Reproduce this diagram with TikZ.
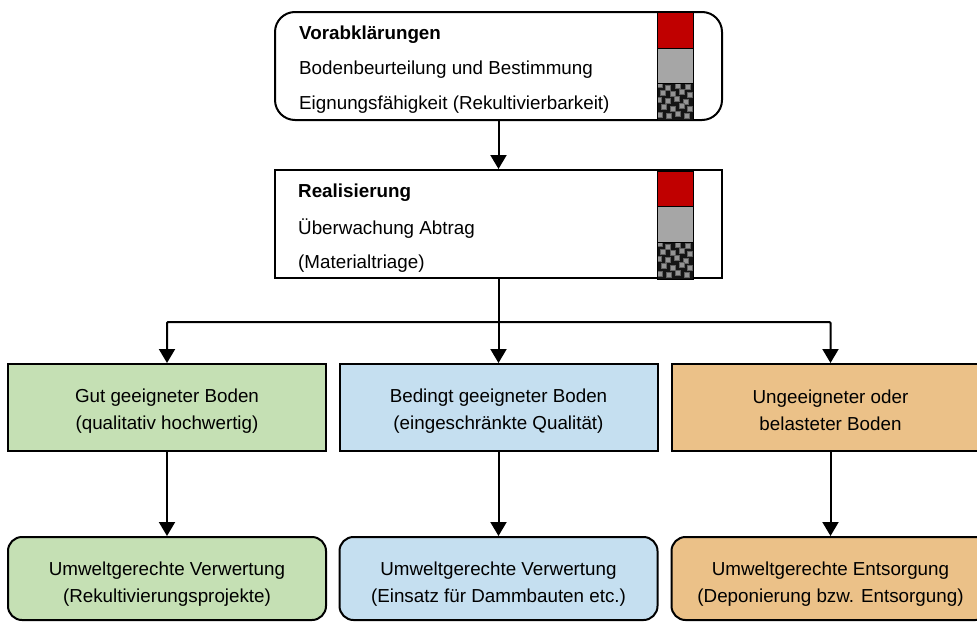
\documentclass[tikz,border=0pt]{standalone}
\usepackage{fontspec}
\setmainfont{Liberation Sans}
\usetikzlibrary{arrows.meta}
\definecolor{bgreen}{HTML}{C5E0B4}
\definecolor{bblue}{HTML}{C5DFF0}
\definecolor{borange}{HTML}{EBC188}
\definecolor{bred}{HTML}{C00000}
\definecolor{bgrey}{HTML}{A6A6A6}
\newcommand{\sqlift}{\rule{0pt}{20pt}}
\newcommand{\rdlift}{\rule{0pt}{24pt}}
\tikzset{
  x=1pt,y=-1pt,
  conn/.style={line width=2pt,draw=black,-{Triangle[length=14pt,width=16pt]}},
  boxbase/.style={draw=black,line width=2pt,minimum width=318pt,anchor=center,align=center,inner sep=0pt,
     font=\fontsize{18.8}{27}\selectfont},
  sqbox/.style={boxbase,minimum height=87pt},
  rbox/.style={boxbase,minimum height=83pt,rounded corners=14pt},
  stage/.style={draw=black,line width=2pt,minimum width=447pt,minimum height=108pt,inner sep=0pt},
  band/.style={draw=black,line width=1pt,minimum width=36pt,minimum height=36pt,inner sep=0pt},
  label/.style={anchor=west,inner sep=0pt,font=\fontsize{18.8}{20}\selectfont},
  boldlabel/.style={label,font=\fontsize{18.8}{20}\selectfont\bfseries},
}
\newcommand{\specks}[2]{%
  \begin{scope}[shift={(#1,#2)}]
    \begin{scope}
    \clip (0,0) rectangle (36,37);
    \fill[black!92] (0,0) rectangle (36,37);
    \foreach \a/\b in {1/0,9/3,19/1,29/2,4/8,14/9,23/7,31/10,0/15,9/16,18/14,27/17,5/22,14/24,23/21,31/24,1/30,10/31,19/29,28/31}{
      \fill[black!62] (\a-0.8,\b-0.8) rectangle ++(5.6,5.6);
      \fill[black!42] (\a,\b) rectangle ++(4,4);
    }
    \end{scope}
    \draw[black,line width=1pt] (0,0) rectangle (36,37);
  \end{scope}}
\begin{document}
\begin{tikzpicture}
\useasboundingbox (0,0) rectangle (977,621);
\fill[white] (0,0) rectangle (977,621);

\node[stage,rounded corners=20pt] (vor) at (498.5,66) {};
\node[stage] (rea) at (498.5,224) {};

\node[band,fill=bred,minimum height=36pt] (v1) at (675,30) {};
\node[band,fill=bgrey,minimum height=35pt] (v2) at (675,65.5) {};
\specks{657}{83}
\node[band,fill=bred,minimum height=35pt] (r1) at (675,188.5) {};
\node[band,fill=bgrey,minimum height=36pt] (r2) at (675,224) {};
\specks{657}{242}

\node[boldlabel] (v1t) at (299,34.5) {Vorabklärungen};
\node[label] (v2t) at (299,69.5) {Bodenbeurteilung und Bestimmung};
\node[label] (v3t) at (299,104.5) {Eignungsfähigkeit (Rekultivierbarkeit)};
\node[boldlabel] (r1t) at (298,192.5) {Realisierung};
\node[label] (r2t) at (298,228.5) {Überwachung Abtrag};
\node[label] (r3t) at (298,263.5) {(Materialtriage)};

\node[sqbox,fill=bgreen] (a1) at (167,407.5) {\sqlift Gut geeigneter Boden\\(qualitativ hochwertig)};
\node[sqbox,fill=bblue] (b1) at (498.5,407.5) {\sqlift Bedingt geeigneter Boden\\(eingeschränkte Qualität)};
\node[sqbox,fill=borange] (c1) at (830.5,407.5) {\sqlift Ungeeigneter oder\\belasteter Boden};
\node[rbox,fill=bgreen] (a2) at (167,578.5) {\rdlift Umweltgerechte Verwertung\\(Rekultivierungsprojekte)};
\node[rbox,fill=bblue] (b2) at (498.5,578.5) {\rdlift Umweltgerechte Verwertung\\(Einsatz für Dammbauten etc.)};
\node[rbox,fill=borange] (c2) at (830.5,578.5) {\rdlift Umweltgerechte Entsorgung\\(Deponierung bzw. Entsorgung)};

\coordinate (j) at (498.5,322);
\draw[conn] (vor) -- (rea);
\draw[conn] (rea) -- (b1);
\draw[conn,rounded corners=1pt] (j) -| (a1);
\draw[conn,rounded corners=1pt] (j) -| (c1);
\draw[conn] (a1) -- (a2);
\draw[conn] (b1) -- (b2);
\draw[conn] (c1) -- (c2);
\end{tikzpicture}
\end{document}
